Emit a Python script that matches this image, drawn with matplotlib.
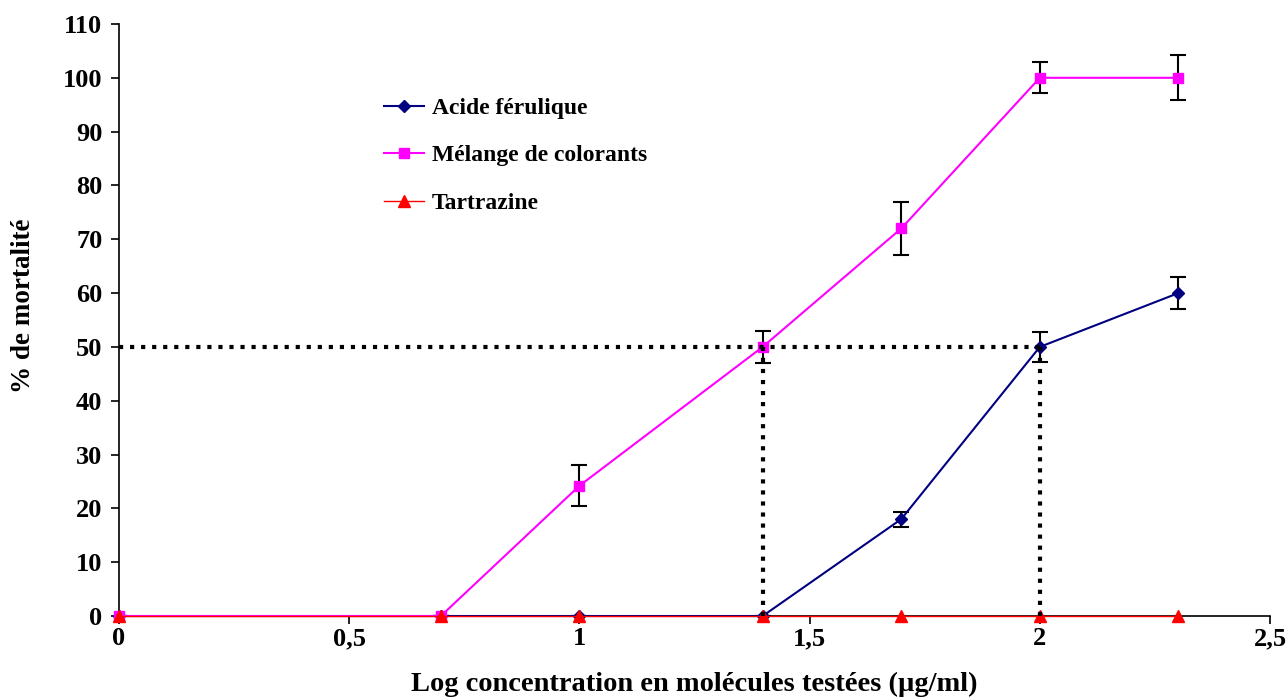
#-  Python 3 source code

#-  plot.py ~~
#
#   Dose-response curves (% mortality vs log concentration) for ferulic acid,
#   the dye mixture and tartrazine, with the LC50 read-off drawn as dotted
#   lines.
#

import matplotlib
matplotlib.use("Agg")
import matplotlib.pyplot as pyplot

###

log_conc = [0, 0.699, 1, 1.398, 1.699, 2, 2.301]

ferulique = [0, 0, 0, 0, 18, 50, 60]
ferulique_err = [0, 0, 0, 0, 1.4, 2.8, 3]

melange = [0, 0, 24.2, 50, 72, 100, 100]
melange_err = [0, 0, 3.8, 3, 5, 2.9, 4.2]

tartrazine = [0, 0, 0, 0, 0, 0, 0]

labels = ["Acide férulique", "Mélange de colorants", "Tartrazine"]

xticks = [0, 0.5, 1, 1.5, 2, 2.5]
xtick_labels = ["0", "0,5", "1", "1,5", "2", "2,5"]
yticks = list(range(0, 111, 10))

lc50 = 50
lc50_x = [1.398, 2]

###

def analyze():

    pyplot.rcParams["font.family"] = ["Liberation Serif", "DejaVu Serif"]
    pyplot.rcParams["font.weight"] = "bold"

    fig = pyplot.figure(figsize=(12.87, 6.97), dpi=100)
    ax = fig.add_axes([0.0925, 0.1162, 0.8943, 0.8494])

  # Error bars go under the curves, as in the original spreadsheet chart
    ax.errorbar(log_conc, ferulique, yerr=ferulique_err, fmt="none",
                ecolor="black", elinewidth=1.5, capsize=6, capthick=1.5,
                zorder=2)
    ax.errorbar(log_conc, melange, yerr=melange_err, fmt="none",
                ecolor="black", elinewidth=1.5, capsize=6, capthick=1.5,
                zorder=2)

    ax.plot(log_conc, ferulique, color="#000080", marker="D", markersize=6.5,
            linewidth=1.5, label=labels[0], zorder=3, clip_on=False)
    ax.plot(log_conc, melange, color="#FF00FF", marker="s", markersize=7.5,
            linewidth=1.5, label=labels[1], zorder=3, clip_on=False)
    ax.plot(log_conc, tartrazine, color="#FF0000", marker="^", markersize=9,
            linewidth=1.0, label=labels[2], zorder=4, clip_on=False)

  # LC50 read-off lines
    ax.plot([0, lc50_x[-1]], [lc50, lc50], color="black", linestyle=":",
            linewidth=3, zorder=5)
    for x in lc50_x:
        ax.plot([x, x], [0, lc50], color="black", linestyle=":",
                linewidth=3, zorder=5)

    ax.set_xlim(0, 2.5)
    ax.set_ylim(0, 110)
    ax.set_xticks(xticks)
    ax.set_xticklabels(xtick_labels)
    ax.set_yticks(yticks)
    ax.tick_params(labelsize=19, length=6, width=1.2, direction="out")
    ax.tick_params(axis="y", pad=6)
    ax.tick_params(axis="x", pad=2)
    for lbl in ax.get_xticklabels() + ax.get_yticklabels():
        lbl.set_fontweight("bold")

    for side in ("top", "right"):
        ax.spines[side].set_visible(False)
    for side in ("left", "bottom"):
        ax.spines[side].set_linewidth(1.2)

    ax.set_xlabel("Log concentration en molécules testées (µg/ml)",
                  fontsize=20.5, fontweight="bold", labelpad=16)
    ax.set_ylabel("% de mortalité", fontsize=19.5, fontweight="bold")
  # Place the y label where the original had it, a bit above centre
    ax.yaxis.set_label_coords(-0.072, 0.524)

    ax.legend(loc="upper left", bbox_to_anchor=(0.212, 0.912), frameon=False,
              prop={"size": 17, "weight": "bold"}, handlelength=1.7,
              labelspacing=1.1, handletextpad=0.3)

    fig.savefig("out.png", dpi=100)

###

def main():
    analyze()

###

if __name__ == "__main__":
    main()
